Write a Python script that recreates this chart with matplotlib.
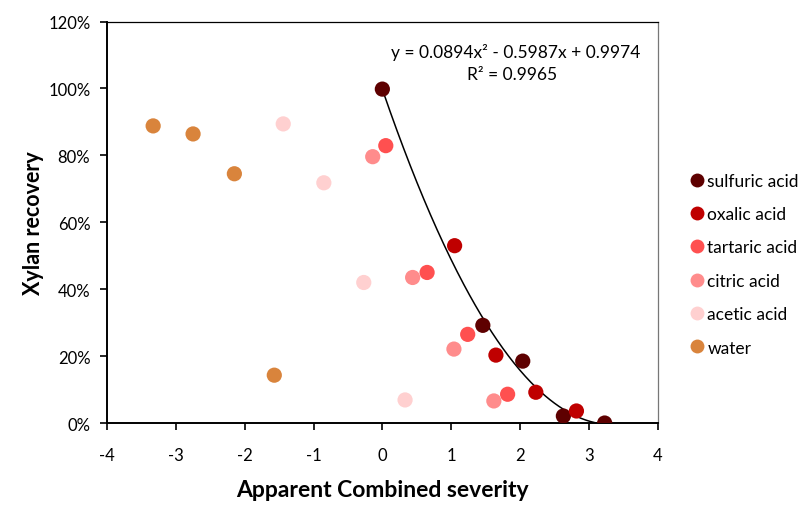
import matplotlib.pyplot as plt
from matplotlib.lines import Line2D
import numpy as np

plt.rcParams['font.family'] = ['Lato', 'DejaVu Sans']
plt.rcParams['axes.unicode_minus'] = False

labels = ["sulfuric acid", "oxalic acid", "tartaric acid", "citric acid", "acetic acid", "water"]
colors = ["#5e0000", "#bf0000", "#ff5050", "#ff8c8c", "#ffd0d0", "#d9843c"]

sev = [
	[0.00, 1.46, 2.04, 2.63, 3.23],
	[1.05, 1.65, 2.23, 2.82],
	[0.05, 0.65, 1.24, 1.82],
	[-0.14, 0.44, 1.04, 1.62],
	[-1.44, -0.85, -0.27, 0.33],
	[-3.33, -2.75, -2.15, -1.57],
]
rec = [
	[0.998, 0.292, 0.185, 0.021, 0.0],
	[0.530, 0.203, 0.092, 0.036],
	[0.829, 0.450, 0.265, 0.086],
	[0.796, 0.435, 0.221, 0.066],
	[0.894, 0.718, 0.420, 0.069],
	[0.888, 0.864, 0.745, 0.143],
]
coef = [0.0894, -0.5987, 0.9974]

fig = plt.figure(figsize=(8.03, 5.06), dpi=100)
ax = fig.add_axes([0.1333, 0.162, 0.6857, 0.7935])

for i in range(len(labels)):
	ax.scatter(sev[i], rec[i], s=120, color=colors[i], edgecolors='none', zorder=3)

xt = np.linspace(0, max(sev[0]), 200)
ax.plot(xt, np.polyval(coef, xt), color='black', lw=1.1, zorder=2)

ax.text(0.742, 0.926, "y = 0.0894x² - 0.5987x + 0.9974", transform=ax.transAxes, ha='center', va='center', fontsize=12.5)
ax.text(0.735, 0.869, "R² = 0.9965", transform=ax.transAxes, ha='center', va='center', fontsize=12.5)

ax.set_xlim(-4, 4)
ax.set_ylim(0, 1.2)
ax.set_xticks(np.arange(-4, 5, 1))
ax.set_yticks(np.arange(0, 1.21, 0.2))
ax.set_yticklabels(["%d%%" % round(v * 100) for v in np.arange(0, 1.21, 0.2)])
ax.tick_params(direction='out', length=5, width=1.2, labelsize=12, pad=7)
ax.tick_params(axis='x', pad=12)
for s in ['left', 'bottom']:
	ax.spines[s].set_linewidth(1.4)
ax.spines['top'].set_linewidth(0.9)
ax.spines['right'].set_linewidth(0.9)
ax.spines['right'].set_color('#777777')

ax.set_xlabel("Apparent Combined severity", fontsize=16.5, fontweight='bold', labelpad=12)
ax.set_ylabel("Xylan recovery", fontsize=15.5, fontweight='bold', labelpad=3)

handles = [Line2D([], [], marker='o', ls='none', markersize=10, markerfacecolor=c, markeredgecolor='none') for c in colors]
fig.legend(handles, labels, loc='center left', bbox_to_anchor=(0.855, 0.476), frameon=False,
	fontsize=12.5, labelspacing=1.0, handletextpad=0.0, handlelength=1.2, borderpad=0, borderaxespad=0)

plt.savefig("out.png", dpi=100)
